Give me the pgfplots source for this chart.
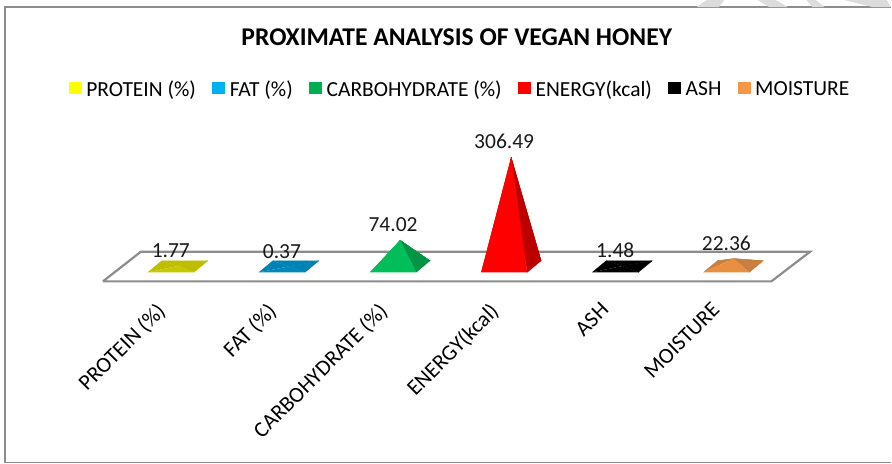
\documentclass[border=0pt]{standalone}
\usepackage{pgfplots}
\pgfplotsset{compat=1.18}
\usepackage{fontspec}
\setmainfont{Carlito}
\definecolor{frameg}{HTML}{8C8C8C}
\definecolor{wm}{HTML}{DCDCDC}
% legend colours
\definecolor{lA}{HTML}{FFFF00}
\definecolor{lB}{HTML}{00B0F0}
\definecolor{lC}{HTML}{00B050}
\definecolor{lD}{HTML}{FF0000}
\definecolor{lE}{HTML}{000000}
\definecolor{lF}{HTML}{F79646}
% pyramid faces
\definecolor{fA}{RGB}{200,200,0}\definecolor{sA}{RGB}{190,190,0}
\definecolor{fB}{RGB}{0,136,187}\definecolor{sB}{RGB}{0,130,180}
\definecolor{fC}{RGB}{0,191,90}\definecolor{sC}{RGB}{0,148,68}
\definecolor{fD}{RGB}{255,0,0}\definecolor{sD}{RGB}{187,0,0}
\definecolor{fE}{RGB}{0,0,0}\definecolor{sE}{RGB}{0,0,0}
\definecolor{fF}{RGB}{232,144,63}\definecolor{sF}{RGB}{200,127,63}
% pyramid(index, value, front, side)
\newcommand{\pyramid}[4]{%
  \pgfmathsetmacro{\xa}{#1-0.27}%
  \pgfmathsetmacro{\xb}{#1+0.144}%
  \pgfmathsetmacro{\xc}{#1+0.27}%
  \pgfmathsetmacro{\xd}{#1-0.144}%
  \edef\tmp{\noexpand\addplot[fill=#4,draw=#4,line width=0.3pt,forget plot] coordinates {(\xd,16.25) (\xc,16.25) (#1,#2)};
  \noexpand\addplot[fill=#4,draw=#4,line width=0.3pt,forget plot] coordinates {(\xa,-16.25) (\xd,16.25) (#1,#2)};
  \noexpand\addplot[fill=#4,draw=#4,line width=0.3pt,forget plot] coordinates {(\xb,-16.25) (\xc,16.25) (#1,#2)};
  \noexpand\addplot[fill=#3,draw=#3,line width=0.3pt,forget plot] coordinates {(\xa,-16.25) (\xb,-16.25) (#1,#2)};
  \noexpand\addplot[#3!35,line width=1pt,forget plot] coordinates {(\xa,-17.5) (\xb,-17.5)};}%
  \tmp
}
\begin{document}
\begin{tikzpicture}
\begin{axis}[
  scale only axis, width=892pt, height=464pt,
  xmin=-1.6007, xmax=6.4209, ymin=-552.4, ymax=747.3,
  axis line style={draw=none},
  major tick style={draw=none},
  ytick=\empty,
  xtick={0,1,2,3,4,5},
  xticklabels={PROTEIN (\%),FAT (\%),CARBOHYDRATE (\%),ENERGY(kcal),ASH,MOISTURE},
  xticklabel style={font=\fontsize{22}{22}\selectfont, rotate=45, anchor=north east, yshift=134.5pt, xshift=102.5pt},
  clip=false,
  title={\bfseries PROXIMATE ANALYSIS OF VEGAN HONEY},
  title style={font=\fontsize{25.6}{26}\selectfont, anchor=center, at={(rel axis cs:0.5125,0.907)}},
  legend columns=6,
  legend cell align=left,
  legend style={draw=none, fill=none, at={(rel axis cs:0.5163,0.808)}, anchor=center,
     font=\fontsize{21.5}{22}\selectfont, inner sep=0pt,
     /tikz/every even column/.append style={column sep=14.4pt},
     /tikz/every odd column/.append style={column sep=3pt}},
  legend image code/.code={\fill[#1] (0pt,-4pt) rectangle (12pt,7pt);},
]
% frame and background marks
\addplot[frameg,line width=1.6pt,forget plot] coordinates {(6.4209,-549.6) (-1.555,-549.6) (-1.555,727.6) (6.4209,727.6)};
\addplot[fill=wm,draw=none,forget plot] coordinates {(4.67,727.6) (4.87,727.6) (4.92,747.3) (4.76,747.3)};
\addplot[fill=wm,draw=none,forget plot] coordinates {(5.22,747.3) (5.38,747.3) (5.49,727.6) (5.32,727.6)};
\addplot[fill=wm,draw=none,forget plot] coordinates {(5.66,747.3) (5.74,747.3) (5.82,727.6) (5.71,727.6)};
\addplot[fill=wm,draw=none,forget plot] coordinates {(6.00,747.3) (6.38,747.3) (6.42,727.6) (6.25,727.6)};
% floor
\addplot[frameg,line width=2.2pt,forget plot] coordinates {(-0.6745,-41.6) (5.342,-41.6) (5.6906,41.6) (-0.3327,41.6) (-0.6745,-41.6)};
% legend entries
\addlegendimage{lA}\addlegendentry{PROTEIN (\%)}
\addlegendimage{lB}\addlegendentry{FAT (\%)}
\addlegendimage{lC}\addlegendentry{CARBOHYDRATE (\%)}
\addlegendimage{lD}\addlegendentry{ENERGY(kcal)}
\addlegendimage{lE}\addlegendentry{ASH}
\addlegendimage{lF}\addlegendentry{MOISTURE}
% pyramids
\pyramid{0}{1.77}{fA}{sA}
\pyramid{1}{0.37}{fB}{sB}
\pyramid{2}{74.02}{fC}{sC}
\pyramid{3}{306.49}{fD}{sD}
\pyramid{4}{1.48}{fE}{sE}
\pyramid{5}{22.36}{fF}{sF}
% data labels
\addplot[draw=none,forget plot,point meta=explicit symbolic,
  nodes near coords, every node near coord/.append style={font=\fontsize{21.5}{22}\selectfont, anchor=south, inner sep=0pt, yshift=8pt, xshift=-7pt, text=black!90}]
  coordinates {(0,1.77)[1.77] (1,0.37)[0.37] (2,74.02)[74.02] (3,306.49)[306.49] (4,1.48)[1.48] (5,22.36)[22.36]};
\end{axis}
\end{tikzpicture}
\end{document}
